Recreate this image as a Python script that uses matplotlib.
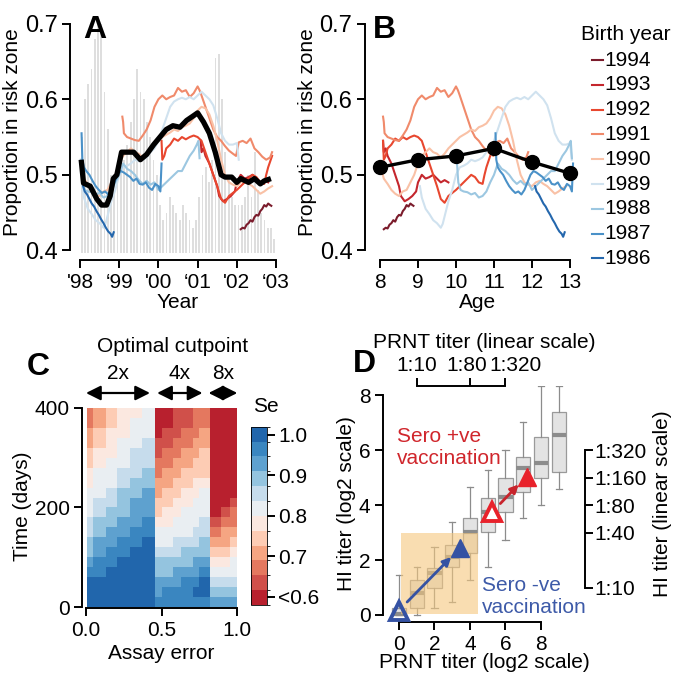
import numpy as np
import matplotlib.pyplot as plt
import matplotlib.transforms as mtransforms
from matplotlib.colors import ListedColormap, BoundaryNorm
from matplotlib.cm import ScalarMappable
from matplotlib.lines import Line2D
from matplotlib.patches import Rectangle

plt.rcParams['font.family'] = ['Liberation Sans', 'DejaVu Sans']
plt.rcParams['font.size'] = 15
plt.rcParams['axes.linewidth'] = 1.4

# ---------------- panel A / B data (year, proportion in risk zone) ----------------
birth_years = [1994, 1993, 1992, 1991, 1990, 1989, 1988, 1987, 1986]
cohort_colors = ['#7b1c2c', '#c4262d', '#e8472f', '#f08a6b', '#f9c1a6',
                 '#d0e2ef', '#9cc7e1', '#4a91c8', '#2467ad']

yr_1994 = [2002.10, 2002.15, 2002.20, 2002.25, 2002.30, 2002.35, 2002.40, 2002.45, 2002.50,
           2002.55, 2002.60, 2002.65, 2002.70, 2002.75, 2002.80, 2002.85, 2002.88]
pr_1994 = [0.428, 0.430, 0.429, 0.434, 0.436, 0.440, 0.438, 0.444, 0.447,
           0.446, 0.452, 0.455, 0.460, 0.458, 0.462, 0.460, 0.459]

yr_1993 = [2001.08, 2001.10, 2001.15, 2001.20, 2001.30, 2001.40, 2001.50, 2001.55, 2001.65, 2001.75,
           2001.85, 2001.95, 2002.00, 2002.10, 2002.20, 2002.30, 2002.40, 2002.50, 2002.60,
           2002.70, 2002.80]
pr_1993 = [0.545, 0.530, 0.535, 0.525, 0.515, 0.500, 0.485, 0.472, 0.465, 0.468,
           0.472, 0.478, 0.490, 0.500, 0.495, 0.497, 0.500, 0.495, 0.490,
           0.493, 0.490]

yr_1992 = [2000.08, 2000.10, 2000.15, 2000.20, 2000.30, 2000.40, 2000.50, 2000.60, 2000.70,
           2000.80, 2000.90, 2001.00, 2001.10, 2001.20, 2001.30, 2001.40, 2001.50, 2001.60,
           2001.70, 2001.80, 2001.90, 2002.00, 2002.10, 2002.20, 2002.30, 2002.40, 2002.50,
           2002.60, 2002.70, 2002.75, 2002.80, 2002.90]
pr_1992 = [0.545, 0.520, 0.525, 0.535, 0.540, 0.548, 0.545, 0.550, 0.547,
           0.550, 0.552, 0.550, 0.545, 0.530, 0.515, 0.500, 0.485, 0.468,
           0.463, 0.472, 0.476, 0.480, 0.485, 0.490, 0.495, 0.500, 0.497,
           0.490, 0.488, 0.500, 0.510, 0.525]

yr_1991 = [1999.08, 1999.10, 1999.12, 1999.20, 1999.30, 1999.40, 1999.50, 1999.60, 1999.70,
           1999.80, 1999.90, 2000.00, 2000.10, 2000.20, 2000.30, 2000.40, 2000.50, 2000.60,
           2000.70, 2000.80, 2000.90, 2001.00, 2001.05, 2001.10, 2001.20, 2001.30, 2001.40,
           2001.50, 2001.60, 2001.70, 2001.80, 2001.90, 2001.98, 2002.05, 2002.15, 2002.25,
           2002.35, 2002.45, 2002.55, 2002.65, 2002.75, 2002.85, 2002.90]
pr_1991 = [0.577, 0.570, 0.555, 0.550, 0.548, 0.546, 0.545, 0.552, 0.560,
           0.572, 0.590, 0.600, 0.605, 0.600, 0.603, 0.605, 0.615, 0.610,
           0.612, 0.603, 0.608, 0.617, 0.612, 0.605, 0.590, 0.575, 0.560,
           0.550, 0.545, 0.538, 0.532, 0.528, 0.525, 0.543, 0.545, 0.542,
           0.548, 0.535, 0.530, 0.524, 0.520, 0.523, 0.530]

yr_1990 = [1998.05, 1998.10, 1998.20, 1998.30, 1998.40, 1998.50, 1998.60, 1998.70, 1998.80,
           1998.90, 1999.00, 1999.10, 1999.20, 1999.30, 1999.40, 1999.50, 1999.60, 1999.70,
           1999.80, 1999.90, 2000.00, 2000.10, 2000.20, 2000.30, 2000.40, 2000.50, 2000.60,
           2000.70, 2000.80, 2000.90, 2001.00, 2001.10, 2001.20, 2001.30, 2001.40, 2001.50,
           2001.60, 2001.70, 2001.80, 2001.90, 2002.00, 2002.10, 2002.20, 2002.30, 2002.40,
           2002.50, 2002.60, 2002.70, 2002.80, 2002.90]
pr_1990 = [0.505, 0.495, 0.488, 0.480, 0.475, 0.472, 0.478, 0.480, 0.490,
           0.500, 0.515, 0.525, 0.530, 0.535, 0.530, 0.528, 0.523, 0.528,
           0.535, 0.540, 0.545, 0.550, 0.553, 0.556, 0.560, 0.558, 0.563,
           0.565, 0.568, 0.575, 0.585, 0.590, 0.588, 0.580, 0.565, 0.545,
           0.520, 0.500, 0.490, 0.487, 0.485, 0.490, 0.492, 0.488, 0.485,
           0.480, 0.475, 0.478, 0.482, 0.485]

yr_1989 = [1998.05, 1998.10, 1998.20, 1998.30, 1998.40, 1998.50, 1998.60, 1998.65, 1998.70,
           1998.80, 1998.90, 1999.00, 1999.10, 1999.20, 1999.30, 1999.40, 1999.50, 1999.60,
           1999.70, 1999.80, 1999.90, 2000.00, 2000.10, 2000.20, 2000.30, 2000.40, 2000.50,
           2000.60, 2000.70, 2000.80, 2000.90, 2001.00, 2001.10, 2001.20, 2001.30, 2001.40,
           2001.50, 2001.60, 2001.70, 2001.80, 2001.90, 2002.00, 2002.05]
pr_1989 = [0.485, 0.470, 0.455, 0.448, 0.440, 0.436, 0.430, 0.435, 0.445,
           0.465, 0.480, 0.500, 0.510, 0.512, 0.515, 0.520, 0.518, 0.520,
           0.523, 0.530, 0.535, 0.545, 0.560, 0.575, 0.590, 0.597, 0.600,
           0.602, 0.600, 0.603, 0.600, 0.605, 0.610, 0.605, 0.600, 0.592,
           0.575, 0.555, 0.545, 0.540, 0.540, 0.542, 0.520]

yr_1988 = [1998.02, 1998.06, 1998.12, 1998.20, 1998.30, 1998.40, 1998.50, 1998.60, 1998.70,
           1998.80, 1998.90, 1999.00, 1999.10, 1999.20, 1999.30, 1999.40, 1999.50, 1999.60,
           1999.70, 1999.80, 1999.90, 2000.00, 2000.10, 2000.20, 2000.30, 2000.40, 2000.50,
           2000.60, 2000.70, 2000.80, 2000.90, 2000.98, 2001.02, 2001.05]
pr_1988 = [0.520, 0.490, 0.480, 0.478, 0.477, 0.474, 0.476, 0.470, 0.472,
           0.478, 0.490, 0.500, 0.515, 0.508, 0.505, 0.500, 0.493, 0.488,
           0.492, 0.487, 0.490, 0.480, 0.485, 0.490, 0.495, 0.500, 0.505,
           0.505, 0.515, 0.525, 0.532, 0.540, 0.545, 0.522]

yr_1987 = [1998.04, 1998.06, 1998.10, 1998.16, 1998.24, 1998.32, 1998.40, 1998.48, 1998.56,
           1998.64, 1998.72, 1998.80, 1998.88, 1998.96, 1999.04, 1999.12, 1999.20, 1999.28,
           1999.36, 1999.44, 1999.52, 1999.60, 1999.68, 1999.76, 1999.84, 1999.92, 2000.00,
           2000.05, 2000.08]
pr_1987 = [0.555, 0.520, 0.510, 0.505, 0.500, 0.492, 0.485, 0.480, 0.476,
           0.478, 0.474, 0.480, 0.490, 0.500, 0.505, 0.503, 0.500, 0.497,
           0.492, 0.495, 0.488, 0.487, 0.490, 0.483, 0.480, 0.488, 0.485,
           0.478, 0.515]

yr_1986 = [1998.08, 1998.12, 1998.18, 1998.24, 1998.30, 1998.36, 1998.42, 1998.48, 1998.54,
           1998.60, 1998.66, 1998.72, 1998.78, 1998.82, 1998.86]
pr_1986 = [0.485, 0.478, 0.474, 0.468, 0.462, 0.458, 0.452, 0.447, 0.441,
           0.436, 0.430, 0.425, 0.422, 0.418, 0.424]

cohort_years = [yr_1994, yr_1993, yr_1992, yr_1991, yr_1990, yr_1989, yr_1988, yr_1987, yr_1986]
cohort_props = [pr_1994, pr_1993, pr_1992, pr_1991, pr_1990, pr_1989, pr_1988, pr_1987, pr_1986]

# all-cohort average (panel A, thick black)
yr_mean = [1998.03, 1998.09, 1998.26, 1998.43, 1998.55, 1998.68, 1998.77, 1998.85, 1998.94,
           1999.06, 1999.20, 1999.37, 1999.54, 1999.70, 1999.88, 2000.04, 2000.20, 2000.37,
           2000.55, 2000.72, 2000.89, 2001.00, 2001.15, 2001.30, 2001.45, 2001.60, 2001.70,
           2001.87, 2002.00, 2002.10, 2002.30, 2002.45, 2002.60, 2002.70, 2002.87]
pr_mean = [0.520, 0.489, 0.485, 0.468, 0.460, 0.460, 0.472, 0.495, 0.500,
           0.530, 0.530, 0.530, 0.520, 0.527, 0.540, 0.550, 0.560, 0.565,
           0.563, 0.572, 0.578, 0.582, 0.570, 0.555, 0.530, 0.500, 0.497,
           0.497, 0.490, 0.495, 0.490, 0.495, 0.488, 0.492, 0.495]

# monthly counts in background (scaled to the proportion axis)
bar_top = [0.55, 0.60, 0.62, 0.64, 0.68, 0.70, 0.70, 0.61, 0.56, 0.50, 0.48, 0.49,
           0.51, 0.52, 0.54, 0.57, 0.60, 0.64, 0.61, 0.60, 0.57, 0.55, 0.52, 0.50,
           0.46, 0.44, 0.45, 0.47, 0.46, 0.45, 0.44, 0.46, 0.45, 0.44, 0.43, 0.44,
           0.47, 0.50, 0.51, 0.49, 0.52, 0.655, 0.66, 0.60, 0.53, 0.50, 0.47, 0.46,
           0.46, 0.46, 0.47, 0.50, 0.47, 0.53, 0.48, 0.45, 0.44, 0.43, 0.43, 0.415]

# panel B: mean by age
age_mean = [8, 9, 10, 11, 12, 13]
pr_age_mean = [0.510, 0.520, 0.525, 0.535, 0.517, 0.502]

# ---------------- panel C data ----------------
# column edges along assay error, rows of 20 days; levels 0 (Se ~1.0) .. 11 (Se < 0.6)
assay_edges = [0.009, 0.048, 0.130, 0.208, 0.291, 0.373, 0.457,
               0.505, 0.572, 0.627, 0.704, 0.748, 0.821, 0.892, 0.950, 1.0]
day_edges = list(range(0, 420, 20))
se_level_cols = [  # each string: top (400 d) to bottom (0 d)
    "99887766555443321000",
    "88776655544332211000",
    "77666555443322110000",
    "66655544333221100000",
    "65554443322211000000",
    "55544433222110000000",
    "bbbaa998877655433221",
    "bbaa9988776655433211",
    "aaa99887766554432211",
    "aa998877665554332111",
    "99988776655544322101",
    "99887776555443321001",
    "bbbbbbbbbbba98765432",
    "bbbbbbbbbba988765432",
    "bbbbbbbbba9987655432",
]
se_colors = ['#2166ac', '#3a86c0', '#5ea1cf', '#94c4df', '#c6dcec', '#e9eef2',
             '#fbe8e0', '#fdccb4', '#f5a582', '#e4785f', '#d0504a', '#b8202e']
se_top, se_bottom = 1.0205, 0.5795
cbar_ticks = [1.0, 0.9, 0.8, 0.7, 0.6]
cbar_labels = ['1.0', '0.9', '0.8', '0.7', '<0.6']

# ---------------- panel D data ----------------
prnt_pos = [0, 1, 2, 3, 4, 5, 6, 7, 8, 9]
hi_whislo = [0.0, 0.0, 0.24, 0.48, 1.27, 1.76, 2.73, 3.52, 4.00, 4.60]
hi_q1 = [0.0, 0.24, 0.97, 1.76, 2.24, 3.03, 3.76, 4.48, 5.00, 5.21]
hi_med = [0.05, 0.79, 1.52, 2.12, 3.03, 3.76, 4.30, 5.33, 5.52, 6.55]
hi_q3 = [0.25, 1.27, 1.70, 2.55, 3.52, 4.24, 4.97, 5.76, 6.48, 7.39]
hi_whishi = [1.45, 1.76, 2.48, 3.39, 4.67, 5.27, 6.00, 7.03, 8.33, 8.33]
neg_before, neg_after = (0.0, 0.15), (3.45, 2.42)
pos_before, pos_after = (5.24, 3.76), (7.21, 5.03)
prnt_lin_pos, prnt_lin_lab = [1, 4, 6], ['1:10', '1:80', '1:320']
hi_lin_pos, hi_lin_lab = [1, 3, 4, 5, 6], ['1:10', '1:40', '1:80', '1:160', '1:320']

# ---------------- figure ----------------
W, H = 681, 685
fig = plt.figure(figsize=(W / 100, H / 100), dpi=100)


def px_axes(x0, y0, x1, y1):
    return fig.add_axes([x0 / W, 1 - y1 / H, (x1 - x0) / W, (y1 - y0) / H])


def r_axes(ax, xb, yb):
    ax.spines['top'].set_visible(False)
    ax.spines['right'].set_visible(False)
    ax.spines['bottom'].set_bounds(*xb)
    ax.spines['left'].set_bounds(*yb)
    ax.tick_params(length=6, width=1.4, pad=3)
    ax.patch.set_alpha(0)


# ---- A ----
axA = px_axes(70, 4.5, 286, 260)
bar_x = 1998 + (np.arange(len(bar_top)) + 0.5) / 12
axA.bar(bar_x, np.array(bar_top) - 0.396, bottom=0.396, width=0.045, color='#dedede', zorder=1)
for yrs, prs, col in zip(cohort_years, cohort_props, cohort_colors):
    axA.plot(yrs, prs, color=col, lw=1.5, zorder=2)
axA.plot(yr_mean, pr_mean, color='black', lw=3.8, zorder=3, solid_capstyle='butt')
axA.set_xlim(1997.745, 2003.255)
axA.set_ylim(0.4 - 10 / 786.7, 0.4 + 256 / 786.7)
axA.set_xticks([1998, 1999, 2000, 2001, 2002, 2003])
axA.set_xticklabels(["'98", "\u201899", "'00", "\u201801", "'02", "\u201803"])
axA.set_yticks([0.4, 0.5, 0.6, 0.7])
axA.set_yticklabels(['0.4', '0.5', '0.6', '0.7'])
r_axes(axA, (1998, 2003), (0.4, 0.7))
axA.tick_params(axis='y', labelsize=17)
axA.set_xlabel('Year', labelpad=1)
axA.set_ylabel('Proportion in risk zone', labelpad=2)

# ---- B ----
axB = px_axes(365, 4.5, 590, 260)
for yrs, prs, col, by in zip(cohort_years, cohort_props, cohort_colors, birth_years):
    axB.plot(np.array(yrs) - by, prs, color=col, lw=1.5, zorder=2)
axB.plot(age_mean, pr_age_mean, color='black', lw=2.4, marker='o', ms=10, zorder=3)
axB.set_xlim(8 - 15 / 38, 8 + 210 / 38)
axB.set_ylim(0.4 - 10 / 786.7, 0.4 + 256 / 786.7)
axB.set_xticks(age_mean)
axB.set_yticks([0.4, 0.5, 0.6, 0.7])
axB.set_yticklabels(['0.4', '0.5', '0.6', '0.7'])
r_axes(axB, (8, 13), (0.4, 0.7))
axB.tick_params(axis='y', labelsize=17)
axB.set_xlabel('Age', labelpad=1)
axB.set_ylabel('Proportion in risk zone', labelpad=2)

# legend drawn by hand
fig.text(581 / W, 1 - 34 / H, 'Birth year', ha='left', va='center')
for i, (by, col) in enumerate(zip(birth_years, cohort_colors)):
    yy = 1 - (60 + 24.8 * i) / H
    fig.add_artist(Line2D([592 / W, 603 / W], [yy, yy], color=col, lw=1.5,
                          transform=fig.transFigure))
    fig.text(604 / W, yy, str(by), ha='left', va='center')

# ---- C ----
axC = px_axes(82, 404, 240, 608)
levels = np.array([[int(ch, 16) for ch in col[::-1]] for col in se_level_cols]).T
nlev = len(se_colors)
bounds = np.linspace(se_bottom, se_top, nlev + 1)
centers = (bounds[:-1] + bounds[1:]) / 2
se_vals = centers[::-1][levels]
cmap = ListedColormap(se_colors[::-1])
norm = BoundaryNorm(bounds, cmap.N)
axC.pcolormesh(assay_edges, day_edges, se_vals, cmap=cmap, norm=norm)
axC.set_xlim(-4 / 151.3, 154 / 151.3)
axC.set_ylim(-2, 408)
axC.set_xticks([0, 0.5, 1.0])
axC.set_xticklabels(['0.0', '0.5', '1.0'])
axC.set_yticks([0, 200, 400])
r_axes(axC, (0, 1), (0, 400))
axC.set_xlabel('Assay error', labelpad=3)
axC.set_ylabel('Time (days)', labelpad=2)

trC = axC.get_xaxis_transform()
yarr = (608 - 393) / 204
for x0, x1, lab in [(0.0, 0.423, '2x'), (0.47, 0.77, '4x'), (0.81, 1.0, '8x')]:
    axC.annotate('', xy=(x0, yarr), xytext=(x1, yarr), xycoords=trC, textcoords=trC,
                 arrowprops=dict(arrowstyle='<|-|>', color='black', lw=1.6,
                                 mutation_scale=22, shrinkA=0, shrinkB=0))
    axC.text((x0 + x1) / 2, (608 - 373) / 204, lab, transform=trC, ha='center', va='center')
fig.text(173 / W, 1 - 347 / H, 'Optimal cutpoint', ha='center', va='center')

caxC = px_axes(251, 426.7, 267, 605)
cb = fig.colorbar(ScalarMappable(norm=norm, cmap=cmap), cax=caxC, ticks=cbar_ticks)
cb.ax.set_yticklabels(cbar_labels)
cb.ax.tick_params(length=6, width=1.4, pad=2)
cb.outline.set_linewidth(0.6)
fig.text(253 / W, 1 - 407 / H, 'Se', ha='left', va='center')

# ---- D ----
axD = px_axes(383, 386, 585, 622)
stats = [dict(whislo=a, q1=b, med=c, q3=d, whishi=e)
         for a, b, c, d, e in zip(hi_whislo, hi_q1, hi_med, hi_q3, hi_whishi)]
axD.bxp(stats, positions=prnt_pos, widths=0.8, capwidths=0.35, showfliers=False,
        patch_artist=True, manage_ticks=False,
        boxprops=dict(facecolor='#e3e3e3', edgecolor='#9a9a9a', lw=0.9),
        medianprops=dict(color='#8c8c8c', lw=3),
        whiskerprops=dict(color='#8c8c8c', lw=0.9),
        capprops=dict(color='#8c8c8c', lw=0.9))
axD.add_patch(Rectangle((0.1, 0.05), 4.35, 2.95, color='#f5c77e', alpha=0.6, lw=0, zorder=3))
blue, red = '#3552a3', '#e8222b'
axD.annotate('', xy=(3.05, 2.18), xytext=(0.35, 0.4),
             arrowprops=dict(arrowstyle='-|>', color=blue, lw=2, mutation_scale=12), zorder=4)
axD.annotate('', xy=(6.85, 4.82), xytext=(5.6, 3.98),
             arrowprops=dict(arrowstyle='-|>', color='#c8242c', lw=2, mutation_scale=12), zorder=4)
axD.plot(*neg_before, marker='^', ms=13, mfc='none', mec=blue, mew=2.8, zorder=5, clip_on=False)
axD.plot(*neg_after, marker='^', ms=13, color=blue, zorder=5)
axD.plot(*pos_before, marker='^', ms=13, mfc='white', mec=red, mew=2.8, zorder=5)
axD.plot(*pos_after, marker='^', ms=13, color=red, zorder=5)
axD.text(-0.11, 6.1, 'Sero +ve\nvaccination', color='#d0262c', ha='left', va='center')
axD.text(4.68, 0.69, 'Sero -ve\nvaccination', color='#3d5aa8', ha='left', va='center')
axD.set_xlim(-0.9, 10.48)
axD.set_ylim(-0.255, 8.33)
axD.set_xticks([0, 2, 4, 6, 8])
axD.set_yticks([0, 2, 4, 6, 8])
r_axes(axD, (0, 8), (0, 8))
axD.set_xlabel('PRNT titer (log2 scale)', labelpad=0)
axD.set_ylabel('HI titer (log2 scale)', labelpad=2)

axT = axD.twiny()
axT.set_xlim(axD.get_xlim())
for s in ['left', 'right', 'bottom']:
    axT.spines[s].set_visible(False)
axT.spines['top'].set_bounds(1, 6)
axT.set_xticks(prnt_lin_pos)
axT.set_xticklabels(prnt_lin_lab)
axT.tick_params(length=6, width=1.4, pad=2)
axT.set_xlabel('PRNT titer (linear scale)', labelpad=6)
# nudge the crowded end labels apart, as in the original
shift_r = mtransforms.ScaledTranslation(10 / 100, 0, fig.dpi_scale_trans)
shift_l = mtransforms.ScaledTranslation(-3 / 100, 0, fig.dpi_scale_trans)
tl = axT.get_xticklabels()
tl[2].set_transform(tl[2].get_transform() + shift_r)
tl[1].set_transform(tl[1].get_transform() + shift_l)

axR = axD.twinx()
axR.set_ylim(axD.get_ylim())
for s in ['left', 'top', 'bottom']:
    axR.spines[s].set_visible(False)
axR.spines['right'].set_bounds(1, 6)
axR.set_yticks(hi_lin_pos)
axR.set_yticklabels(hi_lin_lab)
axR.tick_params(length=6, width=1.4, pad=1)
axR.set_ylabel('HI titer (linear scale)', labelpad=4)

# panel letters
for x, y, lab in [(83, 15, 'A'), (373, 15, 'B'), (27, 352, 'C'), (353, 349, 'D')]:
    fig.text(x / W, 1 - y / H, lab, fontsize=23, fontweight='bold', ha='left', va='top')

fig.savefig('out.png', dpi=100)
